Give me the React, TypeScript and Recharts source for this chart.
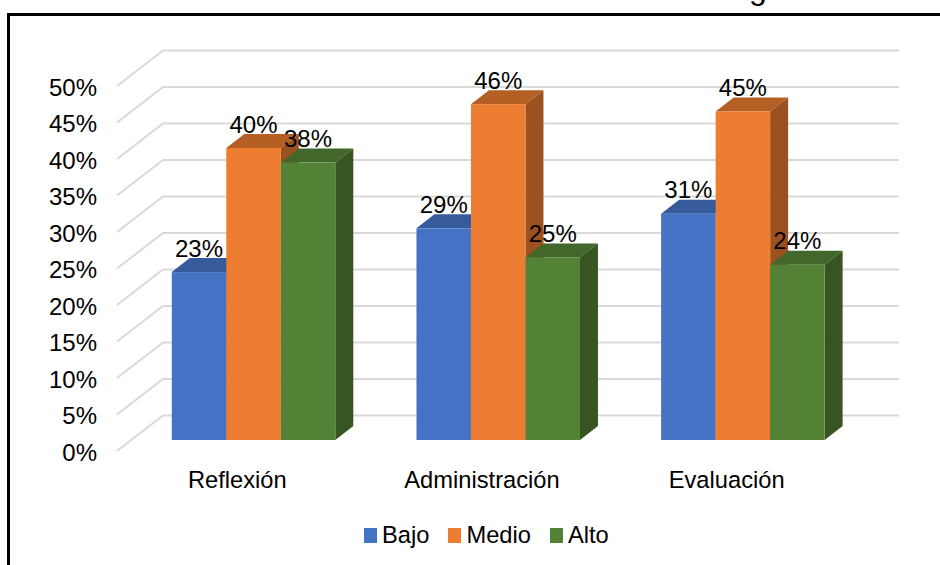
import { Bar, BarChart, CartesianGrid, LabelList, Legend, XAxis, YAxis } from "recharts"

const categories = ["Reflexión", "Administración", "Evaluación"]
const bajo = [23, 29, 31]
const medio = [40, 46, 45]
const alto = [38, 25, 24]
const yTicks = [0, 5, 10, 15, 20, 25, 30, 35, 40, 45, 50]

const rows = categories.map((name, i) => ({ name, bajo: bajo[i], medio: medio[i], alto: alto[i] }))

const FONT = "'Liberation Sans', Arial, sans-serif"

// Floor depth of the fake 3D scene, and how far the boxes sit back from the front edge
const WALL_DX = 46
const WALL_DY = 35.5
const BOX_DX = 13.8
const BOX_DY = 11
const DEPTH_X = 18
const DEPTH_Y = 14

function box(top: string, side: string) {
  return function Box(props: any) {
    const { fill, width: w, height: h } = props
    const x = props.x + BOX_DX
    const y = props.y - BOX_DY
    return (
      <g>
        <polygon
          points={`${x},${y} ${x + w},${y} ${x + w + DEPTH_X},${y - DEPTH_Y} ${x + DEPTH_X},${y - DEPTH_Y}`}
          fill={top}
        />
        <polygon
          points={`${x + w},${y} ${x + w + DEPTH_X},${y - DEPTH_Y} ${x + w + DEPTH_X},${y + h - DEPTH_Y} ${x + w},${y + h}`}
          fill={side}
        />
        <rect x={x} y={y} width={w} height={h} fill={fill} />
      </g>
    )
  }
}

function ValueLabel(props: any) {
  const { x, y, width, value } = props
  return (
    <text
      x={x + width / 2 + BOX_DX}
      y={y - BOX_DY - 15.5}
      textAnchor="middle"
      fontFamily={FONT}
      fontSize={24}
      fill="#000"
    >
      {value}%
    </text>
  )
}

// Each gridline runs up the floor, then along the back wall
function GridLine(props: any) {
  const { x1, y1, x2, key } = props
  return (
    <polyline
      key={key}
      points={`${x1},${y1} ${x1 + WALL_DX},${y1 - WALL_DY} ${x2 + 48},${y1 - WALL_DY}`}
      fill="none"
      stroke="#d9d9d9"
      strokeWidth={2}
    />
  )
}

function LegendRow({ payload }: any) {
  return (
    <div style={{ display: "flex", alignItems: "center", fontFamily: FONT, fontSize: 23.7, color: "#000" }}>
      {payload.map((item: any) => (
        <span key={item.value} style={{ display: "flex", alignItems: "center", marginRight: 19 }}>
          <span style={{ width: 13, height: 15, background: item.color, marginRight: 5 }} />
          {item.value}
        </span>
      ))}
    </div>
  )
}

export default function App() {
  return (
    <div style={{ position: "absolute", left: 0, top: 0, width: 940, height: 565, background: "#fff", overflow: "hidden" }}>
      <div style={{ position: "absolute", left: 7, top: 13, width: 940, height: 560, borderTop: "3px solid #000", borderLeft: "3px solid #000" }} />
      <div style={{ position: "absolute", left: 749, top: -28, fontFamily: FONT, fontSize: 32, lineHeight: "32px" }}>g</div>
      <BarChart
        width={940}
        height={565}
        data={rows}
        margin={{ top: 86, right: 89, bottom: 0, left: 0 }}
        barSize={54.5}
        barGap={0}
      >
        <CartesianGrid vertical={false} horizontal={GridLine} />
        <XAxis
          dataKey="name"
          height={114}
          axisLine={false}
          tickLine={false}
          tickMargin={14}
          tick={{ fill: "#000", fontFamily: FONT, fontSize: 23.7, dx: -2 }}
          interval={0}
        />
        <YAxis
          width={117}
          domain={[0, 50]}
          ticks={yTicks}
          axisLine={false}
          tickLine={false}
          tickMargin={20}
          tickFormatter={(v) => `${v}%`}
          tick={{ fill: "#000", fontFamily: FONT, fontSize: 24, dx: 6, dy: 1 }}
        />
        <Legend
          layout="horizontal"
          verticalAlign="middle"
          itemSorter={null}
          content={<LegendRow />}
          wrapperStyle={{ position: "absolute", left: 364, top: 522, width: 320, height: 30 }}
        />
        <Bar dataKey="bajo" name="Bajo" fill="#4472c4" isAnimationActive={false} shape={box("#365a9b", "#2f5597")}>
          <LabelList dataKey="bajo" content={<ValueLabel />} />
        </Bar>
        <Bar dataKey="medio" name="Medio" fill="#ed7d31" isAnimationActive={false} shape={box("#b65f24", "#9c5220")}>
          <LabelList dataKey="medio" content={<ValueLabel />} />
        </Bar>
        <Bar dataKey="alto" name="Alto" fill="#548235" isAnimationActive={false} shape={box("#41672a", "#375522")}>
          <LabelList dataKey="alto" content={<ValueLabel />} />
        </Bar>
      </BarChart>
    </div>
  )
}
